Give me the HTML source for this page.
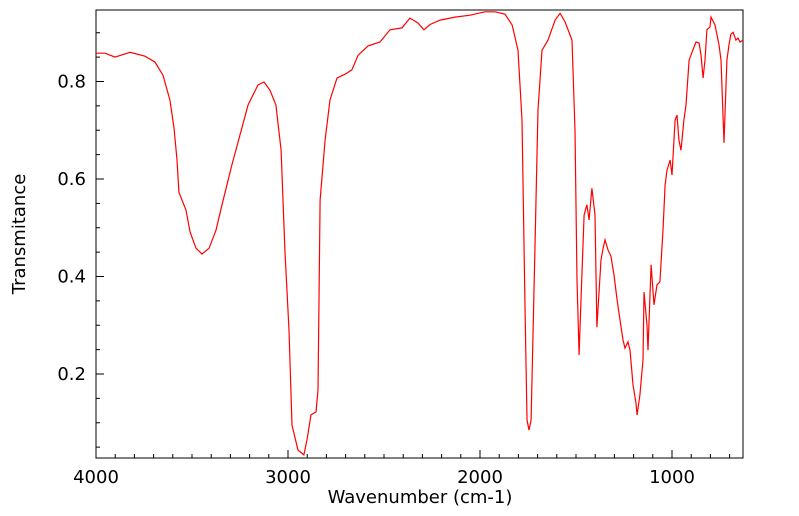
<!DOCTYPE html>
<html><head><meta charset="utf-8"><style>
html,body{margin:0;padding:0;background:#fff;}
svg{display:block;font-family:"DejaVu Sans","Liberation Sans",sans-serif;}
</style></head><body>
<svg id="chart" width="799" height="516">
<rect x="96" y="10" width="647" height="448" fill="#fff" stroke="#000" stroke-width="1"/>
<g id="xticks"></g>
<g id="yticks"></g>
<path id="spec" fill="none" stroke="#ff0000" stroke-width="1.2"/>
<text x="420" y="503" font-size="18" text-anchor="middle">Wavenumber (cm-1)</text>
<text transform="translate(25,234) rotate(-90)" font-size="18" text-anchor="middle">Transmitance</text>
</svg>
<script>
const wavenumbers=[4000,3953,3901,3870,3823,3745,3693,3651,3615,3594,3578,3568,3531,3510,3479,3448,3411,3375,3344,3292,3208,3156,3125,3094,3063,3036,3016,2995,2979,2948,2917,2901,2880,2854,2844,2833,2807,2781,2745,2703,2667,2635,2583,2521,2469,2406,2365,2323,2292,2260,2208,2130,2052,1974,1922,1870,1833,1802,1781,1766,1755,1745,1734,1714,1698,1677,1646,1609,1583,1557,1521,1505,1495,1484,1474,1458,1443,1432,1417,1401,1391,1370,1359,1349,1333,1318,1302,1286,1271,1255,1245,1229,1219,1203,1188,1182,1167,1151,1146,1130,1125,1109,1094,1078,1063,1047,1036,1026,1010,1000,984,974,964,953,938,927,911,896,875,859,849,838,828,818,802,797,776,755,745,729,714,703,693,682,667,656,646,630];
const transmittance=[0.858,0.858,0.850,0.854,0.860,0.852,0.840,0.813,0.762,0.705,0.639,0.573,0.536,0.491,0.458,0.446,0.458,0.495,0.547,0.629,0.752,0.793,0.799,0.782,0.752,0.659,0.454,0.290,0.095,0.044,0.034,0.065,0.116,0.122,0.167,0.557,0.680,0.762,0.807,0.815,0.824,0.854,0.873,0.881,0.906,0.910,0.930,0.920,0.906,0.917,0.926,0.932,0.936,0.943,0.943,0.938,0.916,0.864,0.721,0.352,0.106,0.085,0.106,0.454,0.742,0.864,0.885,0.926,0.940,0.922,0.885,0.700,0.393,0.239,0.352,0.526,0.547,0.516,0.581,0.526,0.296,0.434,0.458,0.475,0.454,0.442,0.403,0.352,0.311,0.270,0.253,0.266,0.249,0.178,0.142,0.116,0.157,0.229,0.368,0.300,0.249,0.424,0.342,0.383,0.389,0.495,0.588,0.618,0.639,0.608,0.721,0.731,0.680,0.659,0.721,0.752,0.844,0.860,0.881,0.879,0.854,0.807,0.844,0.906,0.912,0.932,0.916,0.875,0.844,0.674,0.844,0.875,0.897,0.901,0.885,0.889,0.881,0.885];
const xTickLabels=[4000,3000,2000,1000];
const yTickLabels=[0.2,0.4,0.6,0.8];
const NS="http://www.w3.org/2000/svg";
function xs(w){return 96+(4000-w)*0.192;}
function ys(t){return 471.5-t*487.5;}
let d="";
for(let i=0;i<wavenumbers.length;i++){d+=(i?"L":"M")+xs(wavenumbers[i]).toFixed(1)+","+ys(transmittance[i]).toFixed(1);}
document.getElementById("spec").setAttribute("d",d);
const xg=document.getElementById("xticks"),yg=document.getElementById("yticks");
for(let w=4000;w>=700;w-=100){
 const major=w%1000===0;
 const l=document.createElementNS(NS,"line");
 l.setAttribute("x1",xs(w));l.setAttribute("x2",xs(w));
 l.setAttribute("y1",458);l.setAttribute("y2",major?450:454);
 l.setAttribute("stroke","#000");
 
 
 xg.appendChild(l);
}
xTickLabels.forEach(v=>{
 const t=document.createElementNS(NS,"text");
 t.setAttribute("x",xs(v));t.setAttribute("y",483);t.setAttribute("font-size","18");t.setAttribute("text-anchor","middle");
 t.textContent=v;
 
 
 xg.appendChild(t);
});
for(let k=1;k<=18;k++){
 const v=k*0.05;const y=ys(v);if(y<10||y>458)continue;
 const major=k%4===0;
 const l=document.createElementNS(NS,"line");
 l.setAttribute("x1",96);l.setAttribute("x2",major?104:100);
 l.setAttribute("y1",y);l.setAttribute("y2",y);l.setAttribute("stroke","#000");
 
 
 yg.appendChild(l);
}
yTickLabels.forEach(v=>{
 const t=document.createElementNS(NS,"text");
 t.setAttribute("x",86);t.setAttribute("y",ys(v)+6);t.setAttribute("font-size","18");t.setAttribute("text-anchor","end");
 t.textContent=v.toFixed(1);
 
 
 yg.appendChild(t);
});
</script>
</body></html>
